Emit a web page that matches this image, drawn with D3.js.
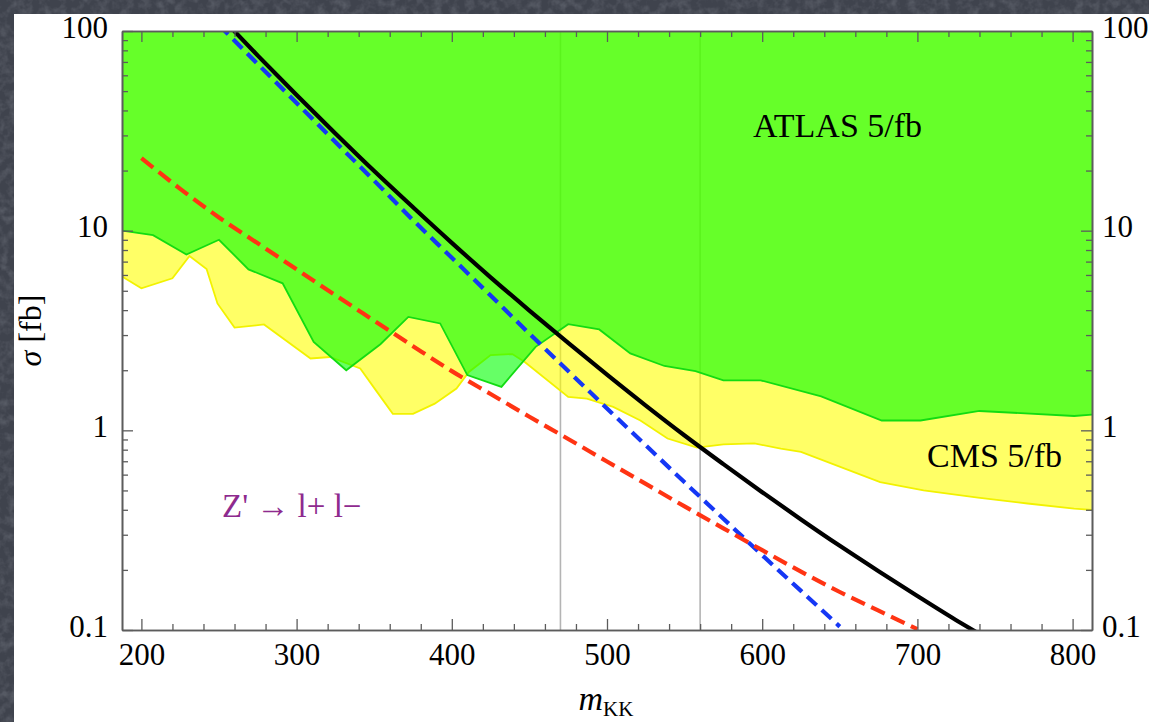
<!DOCTYPE html>
<html>
<head>
<meta charset="utf-8">
<script src="https://cdn.jsdelivr.net/npm/d3@7"></script>
<style>
  html, body { margin: 0; padding: 0; background: #3f434d; }
  svg { display: block; }
  text { font-family: "Liberation Serif", "Times New Roman", serif; }
</style>
</head>
<body>
<svg id="chart" width="1149" height="722"></svg>
<script>
// ---- data ---------------------------------------------------------------
// Observed dilepton limits (fb) as a function of the KK mass (GeV)
const atlasMass  = [187.5, 207.5, 229, 250, 269, 291, 311, 332, 354, 372, 392.5, 410, 432, 454, 475, 495, 515, 537, 557, 575, 599, 638, 677, 702, 740, 801, 812.5];
const atlasLimit = [10.0, 9.5, 7.6, 9.0, 6.4, 5.45, 2.77, 2.0, 2.7, 3.7, 3.43, 1.89, 1.65, 2.62, 3.40, 3.2, 2.43, 2.10, 1.98, 1.78, 1.78, 1.48, 1.12, 1.12, 1.25, 1.18, 1.2];

const cmsMass  = [187.5, 200, 220, 231, 242, 249, 260, 279, 309, 321.5, 341, 351, 362, 375, 389, 403, 411, 425, 439, 447, 475, 487, 504, 521.5, 539, 558, 575, 595, 612, 625, 676, 704, 739, 771, 801, 812.5];
const cmsLimit = [5.9, 5.14, 5.77, 7.46, 6.43, 4.32, 3.27, 3.39, 2.29, 2.33, 2.04, 1.59, 1.21, 1.21, 1.36, 1.62, 1.96, 2.38, 2.41, 2.2, 1.47, 1.44, 1.31, 1.12, 0.91, 0.82, 0.85, 0.86, 0.81, 0.78, 0.55, 0.50, 0.46, 0.43, 0.405, 0.40];

// Predicted cross sections (fb)
const solidMass  = [250, 275, 300, 325, 350, 375, 400, 425, 450, 475, 500, 525, 550, 575, 600, 625, 650, 675, 700, 725, 740];
const solidSigma = [120, 75.3, 47.8, 30.7, 19.9, 13.1, 8.69, 5.84, 3.98, 2.74, 1.90, 1.33, 0.942, 0.677, 0.490, 0.358, 0.264, 0.197, 0.148, 0.112, 0.0955];

const blueMass  = [250, 275, 300, 325, 350, 375, 400, 425, 450, 475, 500, 525, 550, 575, 600, 625, 650];
const blueSigma = [107, 68.3, 43.6, 27.8, 17.8, 11.3, 7.32, 4.73, 3.05, 1.98, 1.287, 0.841, 0.549, 0.361, 0.237, 0.157, 0.104];

const redMass  = [200, 225, 250, 275, 300, 325, 350, 375, 400, 425, 450, 475, 500, 525, 550, 575, 600, 625, 650, 675, 700];
const redSigma = [23.1, 16.2, 11.65, 8.64, 6.40, 4.75, 3.54, 2.64, 1.98, 1.52, 1.17, 0.905, 0.698, 0.539, 0.416, 0.323, 0.251, 0.196, 0.155, 0.125, 0.101];

// Reference masses marked with thin vertical lines
const markerMass = [470, 560];

// Axis ticks
const massTicks  = [200, 300, 400, 500, 600, 700, 800];
const sigmaTicks = [0.1, 1, 10, 100];

// ---- layout -------------------------------------------------------------
const W = 1149, H = 722;
const plot = { left: 122, right: 1092, top: 31, bottom: 630 };

const svg = d3.select("#chart");

// textured slide background
const defs = svg.append("defs");
const grain = defs.append("filter").attr("id", "grain")
  .attr("x", 0).attr("y", 0).attr("width", "100%").attr("height", "100%");
grain.append("feTurbulence").attr("type", "fractalNoise")
  .attr("baseFrequency", 0.12).attr("numOctaves", 3).attr("seed", 4).attr("result", "n");
grain.append("feColorMatrix").attr("type", "matrix")
  .attr("values", "0 0 0 0 0.75  0 0 0 0 0.78  0 0 0 0 0.85  0 0 0 0.9 -0.35");
svg.append("rect").attr("width", W).attr("height", H).attr("fill", "#3f434d");
svg.append("rect").attr("width", W).attr("height", H).attr("filter", "url(#grain)").attr("opacity", 0.35);

// white page
svg.append("rect").attr("x", 14).attr("y", 14).attr("width", W).attr("height", H).attr("fill", "#ffffff");

defs.append("clipPath").attr("id", "plotClip")
  .append("rect")
  .attr("x", plot.left).attr("y", plot.top)
  .attr("width", plot.right - plot.left).attr("height", plot.bottom - plot.top);

// ---- scales -------------------------------------------------------------
const x = d3.scaleLinear().domain([187.5, 812.5]).range([plot.left, plot.right]);
const y = d3.scaleLog().domain([0.1, 100]).range([plot.bottom, plot.top]);

const zip = (xs, ys) => xs.map((v, i) => [v, ys[i]]);

const g = svg.append("g").attr("clip-path", "url(#plotClip)");

// vertical reference lines (under the shaded regions)
g.selectAll("line.marker").data(markerMass).join("line")
  .attr("class", "marker")
  .attr("x1", d => x(d)).attr("x2", d => x(d))
  .attr("y1", y(0.1)).attr("y2", y(100))
  .attr("stroke", "#b4b4b4").attr("stroke-width", 1.6);

// excluded regions: everything above each limit
const band = d3.area()
  .x(d => x(d[0]))
  .y0(() => y(100) - 5)
  .y1(d => y(d[1]));
const edge = d3.line().x(d => x(d[0])).y(d => y(d[1]));

const cmsPts = zip(cmsMass, cmsLimit);
const atlasPts = zip(atlasMass, atlasLimit);

g.append("path").datum(cmsPts).attr("d", band)
  .attr("fill", "rgb(255,255,0)").attr("fill-opacity", 0.6);
g.append("path").datum(cmsPts).attr("d", edge)
  .attr("fill", "none").attr("stroke", "#f2f200").attr("stroke-width", 1.8);

g.append("path").datum(atlasPts).attr("d", band)
  .attr("fill", "rgb(0,255,0)").attr("fill-opacity", 0.6);
g.append("path").datum(atlasPts).attr("d", edge)
  .attr("fill", "none").attr("stroke", "#12dc12").attr("stroke-width", 1.8);

// cross-section curves
const smooth = d3.line().curve(d3.curveMonotoneX).x(d => x(d[0])).y(d => y(d[1]));

g.append("path").datum(zip(solidMass, solidSigma)).attr("d", smooth)
  .attr("fill", "none").attr("stroke", "#000000").attr("stroke-width", 4.2);
g.append("path").datum(zip(blueMass, blueSigma)).attr("d", smooth)
  .attr("fill", "none").attr("stroke", "#1537f5").attr("stroke-width", 4.2)
  .attr("stroke-dasharray", "13,7");
g.append("path").datum(zip(redMass, redSigma)).attr("d", smooth)
  .attr("fill", "none").attr("stroke", "#ff3413").attr("stroke-width", 4.2)
  .attr("stroke-dasharray", "15,7");

// ---- axes (ticks point inward on every side) ---------------------------
const axisColor = "#5c5c5c";
const minorMass = d3.range(200, 813, 20).filter(v => v % 100 !== 0);
const minorSigma = [];
[0.1, 1, 10].forEach(dec => { for (let k = 2; k <= 9; k++) minorSigma.push(+(k * dec).toPrecision(3)); });
const fmt = d => d3.format("~g")(d);

function styleAxis(sel) {
  sel.select(".domain").attr("stroke", axisColor).attr("stroke-width", 1.6);
  sel.selectAll(".tick line").attr("stroke", axisColor).attr("stroke-width", 1.3);
  sel.selectAll(".tick text")
    .attr("fill", "#000")
    .attr("font-family", "Liberation Serif, Times New Roman, serif")
    .attr("font-size", 31);
}

// bottom
const axB = svg.append("g").attr("transform", `translate(0,${plot.bottom})`)
  .call(d3.axisBottom(x).tickValues(massTicks).tickSize(-11).tickPadding(13).tickSizeOuter(0).tickFormat(fmt));
styleAxis(axB);
const axBm = svg.append("g").attr("transform", `translate(0,${plot.bottom})`)
  .call(d3.axisBottom(x).tickValues(minorMass).tickSize(-6).tickSizeOuter(0).tickFormat(""));
styleAxis(axBm);

// top
const axT = svg.append("g").attr("transform", `translate(0,${plot.top})`)
  .call(d3.axisTop(x).tickValues(massTicks).tickSize(-11).tickSizeOuter(0).tickFormat(""));
styleAxis(axT);
const axTm = svg.append("g").attr("transform", `translate(0,${plot.top})`)
  .call(d3.axisTop(x).tickValues(minorMass).tickSize(-6).tickSizeOuter(0).tickFormat(""));
styleAxis(axTm);

// left
const axL = svg.append("g").attr("transform", `translate(${plot.left},0)`)
  .call(d3.axisLeft(y).tickValues(sigmaTicks).tickSize(-11).tickPadding(14).tickSizeOuter(0).tickFormat(fmt));
styleAxis(axL);
axL.selectAll(".tick text").attr("dy", "0.2em");
const axLm = svg.append("g").attr("transform", `translate(${plot.left},0)`)
  .call(d3.axisLeft(y).tickValues(minorSigma).tickSize(-6).tickSizeOuter(0).tickFormat(""));
styleAxis(axLm);

// right
const axR = svg.append("g").attr("transform", `translate(${plot.right},0)`)
  .call(d3.axisRight(y).tickValues(sigmaTicks).tickSize(-11).tickPadding(10).tickSizeOuter(0).tickFormat(fmt));
styleAxis(axR);
axR.selectAll(".tick text").attr("dy", "0.2em");
const axRm = svg.append("g").attr("transform", `translate(${plot.right},0)`)
  .call(d3.axisRight(y).tickValues(minorSigma).tickSize(-6).tickSizeOuter(0).tickFormat(""));
styleAxis(axRm);

// ---- axis titles --------------------------------------------------------
const xTitle = svg.append("text")
  .attr("x", (plot.left + plot.right) / 2 - 1).attr("y", 710)
  .attr("text-anchor", "middle").attr("fill", "#000");
xTitle.append("tspan").attr("font-style", "italic").attr("font-size", 34).text("m");
xTitle.append("tspan").attr("font-size", 21).attr("dy", 6).text("KK");

const yTitle = svg.append("text")
  .attr("transform", `translate(41,${(plot.top + plot.bottom) / 2}) rotate(-90)`)
  .attr("text-anchor", "middle").attr("fill", "#000").attr("font-size", 32);
yTitle.append("tspan").attr("font-style", "italic").text("σ");
yTitle.append("tspan").text(" [fb]");

// ---- annotations --------------------------------------------------------
svg.append("text").attr("x", 753).attr("y", 137).attr("font-size", 34).attr("fill", "#000")
  .text("ATLAS 5/fb");
svg.append("text").attr("x", 927).attr("y", 467).attr("font-size", 34).attr("fill", "#000")
  .text("CMS 5/fb");
svg.append("text").attr("x", 222).attr("y", 517).attr("font-size", 33).attr("fill", "#8e2a8e")
  .text("Z' \u2192 l+ l\u2212");
</script>
</body>
</html>
